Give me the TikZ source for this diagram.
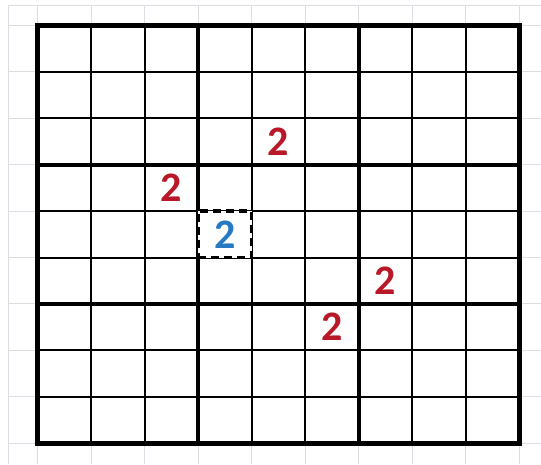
\documentclass[tikz,border=0pt]{standalone}
\usepackage{fontspec}
\usepackage{xcolor}
\usepackage{tikz}
\newfontfamily\digitfont{Carlito}

\definecolor{paper}{RGB}{218,222,228}
\definecolor{placed}{RGB}{184,24,40}
\definecolor{probe}{RGB}{38,122,196}

\begin{document}
\begin{tikzpicture}[x=53.5pt, y=-46.4pt,
  n/.style={font=\digitfont\bfseries\fontsize{42}{42}\selectfont, text=placed,
            inner sep=0pt},
  q/.style={n, text=probe, draw=black, fill=white, line width=3.5pt,
            dash pattern=on 8pt off 5pt, minimum width=53.5pt,
            minimum height=46.4pt}]
  \useasboundingbox (-0.701,-0.55) rectangle (9.411,9.45);
  % background paper
  \draw[paper, line width=1pt] (-0.551,9.45) -- (-0.551,-0.442) -- (9.411,-0.442);
  \foreach \k in {0,...,9} {
    \draw[paper, line width=1pt] (\k,-0.442) -- (\k,9.45);
    \draw[paper, line width=1pt] (-0.551,\k) -- (9.411,\k);
  }
  % the grid
  \foreach \k in {1,2,4,5,7,8} {
    \draw[line width=2pt] (\k,0) -- (\k,9);
    \draw[line width=2pt] (0,\k) -- (9,\k);
  }
  \foreach \k in {3,6} {
    \draw[line width=4pt] (\k,0) -- (\k,9);
    \draw[line width=4pt] (0,\k) -- (9,\k);
  }
  \draw[line width=5pt] (0,0) rectangle (9,9);
  % digits
  \node[n] (r53) at (4.5,2.5) {2};
  \node[n] (r34) at (2.5,3.5) {2};
  \node[q] (b45) at (3.5,4.5) {2};
  \node[n] (r76) at (6.5,5.5) {2};
  \node[n] (r67) at (5.5,6.5) {2};
\end{tikzpicture}
\end{document}
